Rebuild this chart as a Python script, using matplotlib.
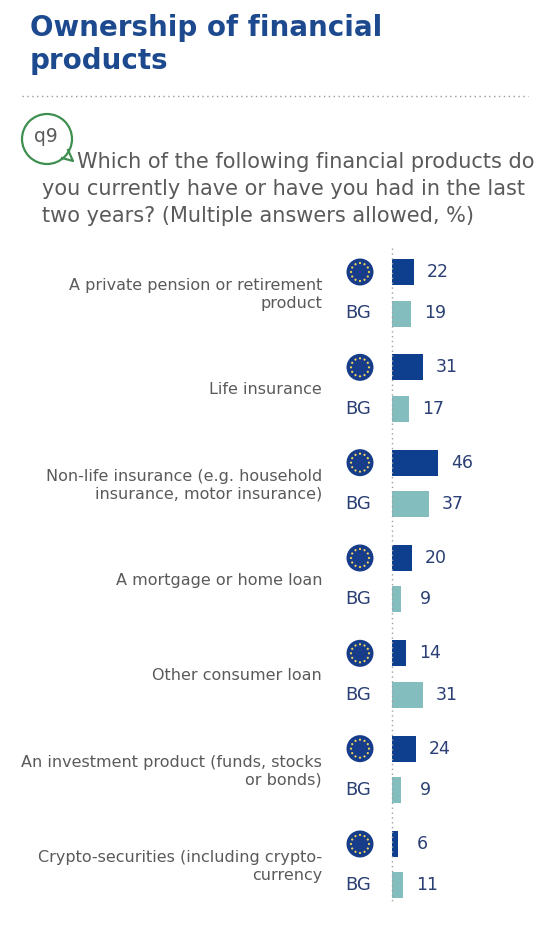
import matplotlib
matplotlib.use("Agg")
import matplotlib.pyplot as plt
from matplotlib.patches import Circle
from matplotlib.transforms import ScaledTranslation
import numpy as np

plt.rcParams['font.family'] = ['DejaVu Sans']

categories = [
    "A private pension or retirement\nproduct",
    "Life insurance",
    "Non-life insurance (e.g. household\ninsurance, motor insurance)",
    "A mortgage or home loan",
    "Other consumer loan",
    "An investment product (funds, stocks\nor bonds)",
    "Crypto-securities (including crypto-\ncurrency",
]
eu_values = [22, 31, 46, 20, 14, 24, 6]
bg_values = [19, 17, 37, 9, 31, 9, 11]
country_label = "BG"

title_lines = ["Ownership of financial", "products"]
question_lines = ["Which of the following financial products do",
                  "you currently have or have you had in the last",
                  "two years? (Multiple answers allowed, %)"]

W, H = 547, 934
DPI = 100
fig = plt.figure(figsize=(W / DPI, H / DPI), dpi=DPI)
fig.patch.set_facecolor("white")

def fx(x):
    return x / W

def fy(y):
    return 1 - y / H

EU_BLUE = "#0E3F8E"
BG_TEAL = "#83BDBD"
LABEL_BLUE = "#2A3F73"
GREY = "#5A5A5A"
TITLE_BLUE = "#1D4A8E"
GREEN = "#3F8F50"

# Title
fig.text(fx(30), fy(36), title_lines[0], fontsize=20, fontweight="bold",
         color=TITLE_BLUE, va="baseline", ha="left")
fig.text(fx(30), fy(69), title_lines[1], fontsize=20, fontweight="bold",
         color=TITLE_BLUE, va="baseline", ha="left")

# dotted separator
fig.add_artist(plt.Line2D([fx(22), fx(528)], [fy(96), fy(96)], transform=fig.transFigure,
                          color="#9A9A9A", linestyle=(0, (1, 2.5)), linewidth=1))

# q9 bubble
bub = Circle((0, 0), 0.25, transform=fig.dpi_scale_trans + ScaledTranslation(fx(47), fy(139), fig.transFigure),
             fill=False, edgecolor=GREEN, linewidth=1.6)
fig.add_artist(bub)
tail = plt.Line2D([fx(62), fx(73), fx(68)], [fy(158), fy(161), fy(150)], transform=fig.transFigure,
                  color=GREEN, linewidth=1.6)
fig.add_artist(tail)
fig.text(fx(46), fy(137), "q9", fontsize=13.5, color=GREY, ha="center", va="center")

# Question
qs = 15
fig.text(fx(77), fy(168), question_lines[0], fontsize=qs, color=GREY, va="baseline", ha="left")
fig.text(fx(42), fy(195), question_lines[1], fontsize=qs, color=GREY, va="baseline", ha="left")
fig.text(fx(42), fy(222), question_lines[2], fontsize=qs, color=GREY, va="baseline", ha="left")

# Bars axes: x=0 at px 392, 1 unit = 1 px
ax_left, ax_right = 392, 542
ax_top, ax_bot = 230, 920
ax = fig.add_axes([fx(ax_left), fy(ax_bot), (ax_right - ax_left) / W, (ax_bot - ax_top) / H])
ax.set_xlim(0, ax_right - ax_left)
spacing = 95.33
c0 = 292.75
ax.set_ylim((ax_bot - c0) / spacing, (ax_top - c0) / spacing)
ax.axis("off")

n = len(categories)
idx = np.arange(n)
off = 20.75 / spacing
bh = 26 / spacing
ax.barh(idx - off, eu_values, height=bh, color=EU_BLUE)
ax.barh(idx + off, bg_values, height=bh, color=BG_TEAL)

# dotted axis
ax.plot([0, 0], [(248 - c0) / spacing, (902 - c0) / spacing], color="#A0A0A0",
        linestyle=(0, (1, 2.5)), linewidth=1, clip_on=False)

for i in range(n):
    ax.text(eu_values[i] + 24, i - off, str(eu_values[i]), ha="center", va="center",
            fontsize=12.5, color=LABEL_BLUE)
    ax.text(bg_values[i] + 24, i + off, str(bg_values[i]), ha="center", va="center",
            fontsize=12.5, color=LABEL_BLUE)
    ax.text(-70, i + 0.02, categories[i], ha="right", va="center", fontsize=11.5,
            color=GREY, linespacing=1.2, clip_on=False)
    ax.text(-33.5, i + off, country_label, ha="center", va="center", fontsize=13,
            color=LABEL_BLUE, clip_on=False)
    # EU flag icon
    tr = fig.dpi_scale_trans + ScaledTranslation(-32, i - off, ax.transData)
    ax.add_artist(Circle((0, 0), 0.135, transform=tr, facecolor="#173C8A",
                         edgecolor="none", clip_on=False))
    for k in range(12):
        a = 2 * np.pi * k / 12
        ax.add_artist(Circle((0.09 * np.cos(a), 0.09 * np.sin(a)), 0.011, transform=tr,
                             facecolor="#F2D55A", edgecolor="none", clip_on=False))

fig.savefig("out.png", dpi=DPI, facecolor="white")
